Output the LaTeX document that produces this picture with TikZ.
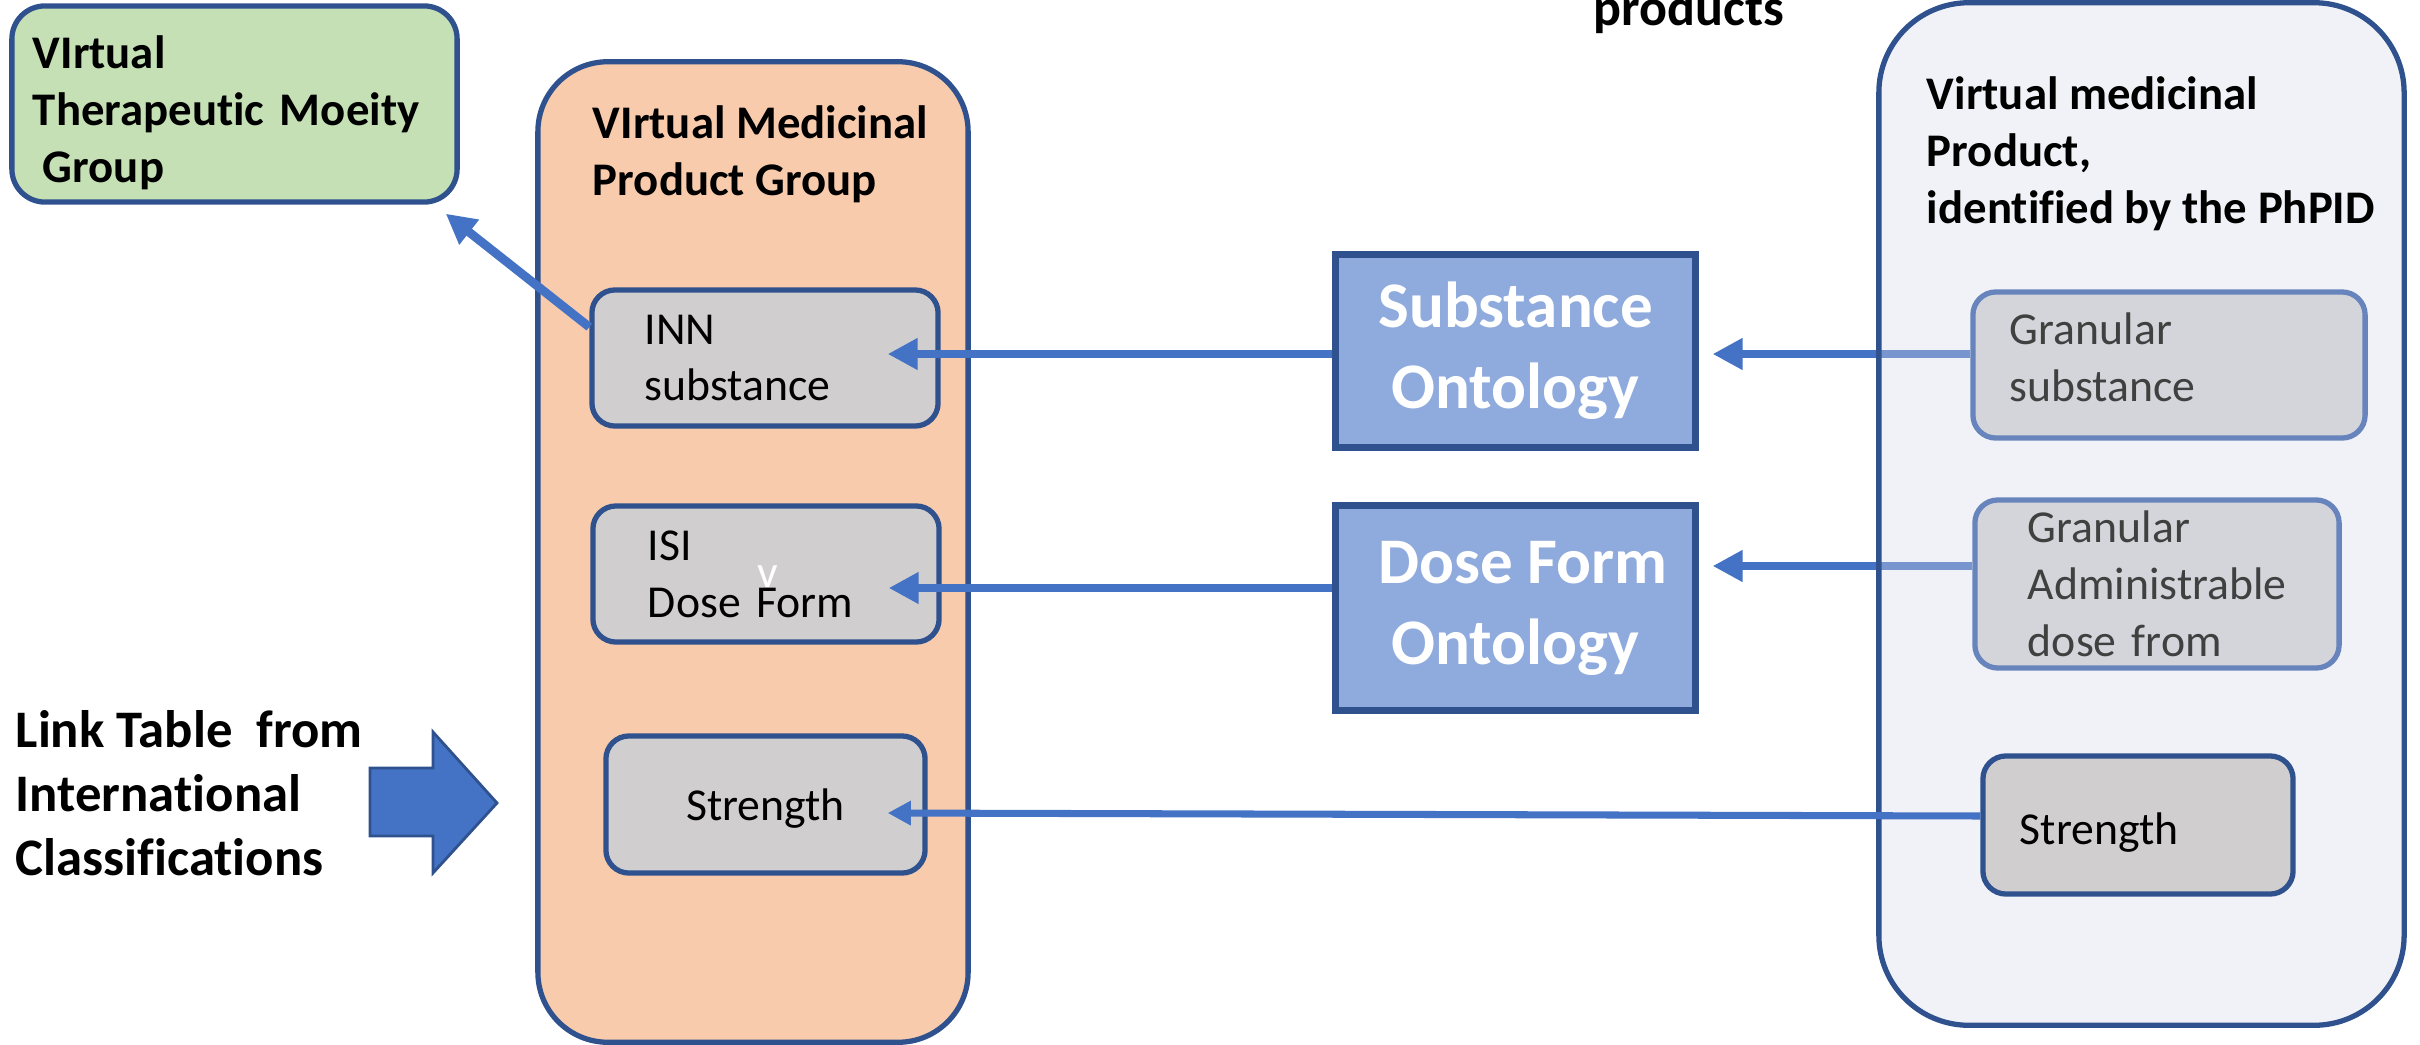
\documentclass[tikz,border=0pt]{standalone}
\usepackage{fontspec}
\setmainfont{Carlito}[Ligatures=NoCommon]
\usetikzlibrary{arrows.meta,positioning}

\definecolor{lineblue}{HTML}{4472C4}
\definecolor{edgeblue}{HTML}{2F528F}
\definecolor{peach}{HTML}{F8CBAD}
\definecolor{mint}{HTML}{C5E0B4}
\definecolor{cellgray}{HTML}{D0CECE}
\definecolor{ontoblue}{HTML}{8FAADC}
\definecolor{paleblue}{HTML}{D8DAE8}
\definecolor{fadeedge}{HTML}{6784BC}
\definecolor{fadegray}{HTML}{D3D5DA}
\definecolor{fadetext}{HTML}{404040}

\pgfdeclarelayer{background}
\pgfsetlayers{background,main}

\begin{document}
\begin{tikzpicture}[x=0.01cm,y=-0.01cm,>={Triangle[length=8.5pt,width=8.5pt]},font=\fontsize{13}{16.2}\selectfont]
  \tikzstyle{box}=[draw=edgeblue,line width=1.5pt,rounded corners=0.23cm,fill=cellgray,align=left,inner ysep=0pt]
  \tikzstyle{faded}=[box,draw=fadeedge,fill=fadegray,text=fadetext]
  \tikzstyle{group}=[draw=edgeblue,line width=1.5pt,inner sep=0pt]
  \tikzstyle{head}=[inner sep=0pt,align=left,font=\fontsize{13.3}{16.2}\selectfont\bfseries]
  \tikzstyle{onto}=[draw=edgeblue,line width=2pt,fill=ontoblue,text=white,align=center,minimum width=3.59cm,font=\fontsize{18.5}{23}\selectfont\bfseries]
  \tikzstyle{flow}=[->,line width=2.5pt,draw=lineblue]

  \useasboundingbox (0,0) rectangle (2420,1045);

  % left side
  \node[group,fill=mint,rounded corners=0.33cm,minimum width=4.45cm,minimum height=1.96cm,
        align=left,inner xsep=0.21cm,text width=4.03cm,font=\fontsize{13.3}{16.2}\selectfont\bfseries]
        (VTMG) at (234.5,104) {\rule{0pt}{14.4pt}VIrtual\\Therapeutic Moeity\\\hspace*{0.1cm}Group};

  \node[group,fill=peach,rounded corners=0.7cm,minimum width=4.30cm,minimum height=9.80cm] (VMPG) at (753,552) {};
  \node[head,below right=0.46cm and 0.57cm of VMPG.north west] (VMPGtitle) {VIrtual Medicinal\\Product Group};

  \node[box,minimum width=3.46cm,minimum height=1.36cm,inner xsep=0.53cm,text width=2.40cm] (INN) at (765,358) {INN\\substance};
  \node[box,minimum width=3.46cm,minimum height=1.36cm,inner xsep=0.55cm,text width=2.36cm] (ISI) at (766,574) {ISI\\Dose Form};
  \node[text=white,inner sep=0pt,anchor=base west] (vmark) at (757,587) {v};
  \node[box,align=center,minimum width=3.19cm,minimum height=1.37cm,text height=11.8pt,text depth=2.7pt] (SL) at (765.5,804.5) {Strength};

  \node[inner sep=0pt,anchor=north west,align=left,font=\fontsize{15}{18.2}\selectfont\bfseries]
        (LT) at (15,710) {Link Table~ from\\International\\Classifications};
  \draw[fill=lineblue,draw=edgeblue,line width=0.8pt]
        (370,768) -- (433,768) -- (433,732) -- (497,803) -- (433,873) -- (433,836) -- (370,836) -- cycle;

  % middle
  \node[onto,minimum height=1.93cm] (SO) at (1515.5,351) {Substance\\Ontology};
  \node[onto,minimum height=2.05cm] (DO) at (1515.5,608) {\hspace*{0.15cm}Dose Form\\Ontology};
  \node[inner sep=0pt,anchor=base west,font=\fontsize{14.8}{18.2}\selectfont\bfseries] (top) at (1593,25) {products};

  % right side
  \node[group,draw=edgeblue,fill=paleblue,fill opacity=0.35,rounded corners=0.9cm,minimum width=5.25cm,minimum height=10.22cm] (VMP) at (2141.5,514) {};
  \node[head,below right=0.76cm and 0.50cm of VMP.north west] (VMPtitle) {Virtual medicinal\\Product,\\identified by the PhPID};

  \node[faded,minimum width=3.92cm,minimum height=1.46cm,inner xsep=0.37cm,text width=3.18cm] (GS) at (2169,365) {Granular\\substance\vspace{0.16cm}};
  \node[faded,minimum width=3.64cm,minimum height=1.68cm,inner xsep=0.53cm,text width=2.58cm] (GA) at (2157,584) {Granular\\Administrable\\dose from};
  \node[box,minimum width=3.10cm,minimum height=1.38cm,inner xsep=0.37cm,text width=2.36cm,text height=13.5pt,text depth=2.7pt] (SR) at (2138,825) {Strength};

  \begin{pgfonlayer}{background}
    \draw[flow] ([yshift=-0.03cm]GS.west |- SO.east) -- ([xshift=0.14cm,yshift=-0.03cm]SO.east);
    \draw[flow] ([yshift=0.18cm]GA.west) -- ([xshift=0.14cm,yshift=0.18cm]GA.west -| DO.east);
  \end{pgfonlayer}

  \draw[flow] (INN.170) -- ([xshift=-0.14cm,yshift=-0.09cm]VTMG.south east);
  \draw[flow] ([yshift=-0.03cm]SO.west) -- ([xshift=-0.53cm,yshift=-0.03cm]SO.west -| INN.east);
  \draw[flow] ([yshift=0.2cm]DO.west) -- ([xshift=-0.53cm,yshift=0.2cm]DO.west -| ISI.east);
  \draw[flow,line width=2pt,>={Triangle[length=6.6pt,width=6.6pt]}] ([yshift=0.09cm]SR.west) -- ([xshift=-0.4cm,yshift=-0.085cm]SL.east);
\end{tikzpicture}
\end{document}
